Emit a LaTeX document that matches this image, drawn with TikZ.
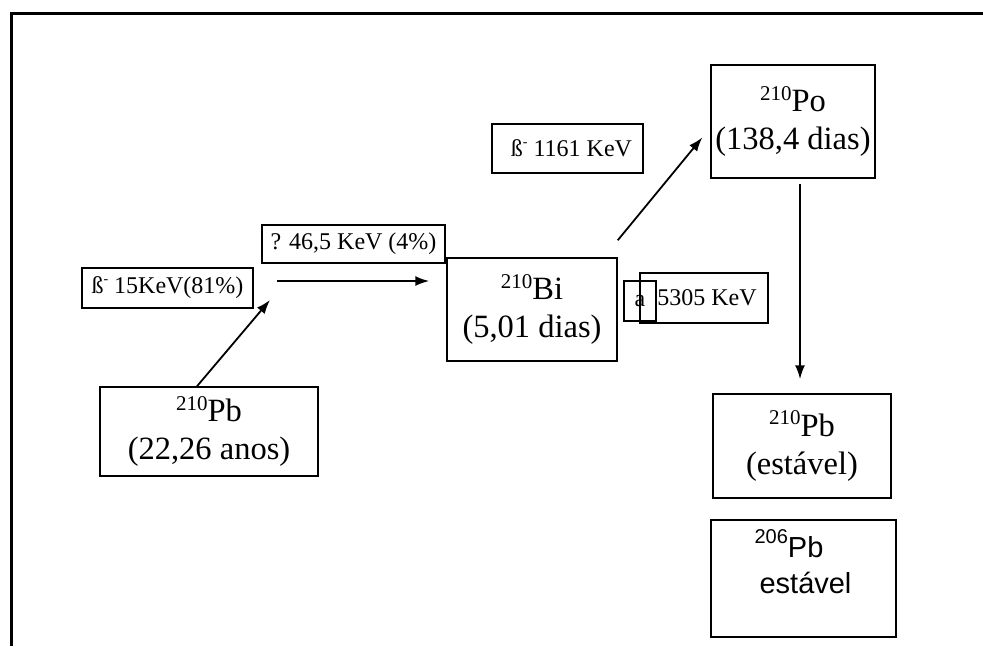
\documentclass[tikz,border=0pt]{standalone}
\usepackage{fontspec}
\setmainfont{Liberation Serif}
\newfontfamily\arialfont{Liberation Sans}
\usetikzlibrary{arrows.meta}
\newcommand{\iso}[2]{\raisebox{0.36em}{\fontsize{21}{21}\selectfont #1}#2}
\newcommand{\betam}{ß\raisebox{0.42em}{\fontsize{14}{14}\selectfont -}}
\begin{document}
\begin{tikzpicture}[x=1pt,y=-1pt,
    caixa/.style={draw,line width=1.5pt,inner sep=0pt,align=center},
    grande/.style={font=\fontsize{32.5}{38}\selectfont},
    pequeno/.style={font=\fontsize{24}{26}\selectfont},
    seta/.style={-{Latex[length=14pt,width=10pt]},line width=1.8pt}]
    \useasboundingbox (0,0) rectangle (983,646);
    %moldura
    \draw[line width=3pt] (11.5,646) -- (11.5,13.5) -- (983,13.5);
    %caixas dos nuclideos
    \node[caixa,grande,minimum width=218pt,minimum height=89pt] (pb) at (209,431.5) {\iso{210}{Pb}\\(22,26 anos)};
    \node[caixa,grande,minimum width=170pt,minimum height=103pt] (bi) at (532,309.5) {\iso{210}{Bi}\\(5,01 dias)};
    \node[caixa,grande,minimum width=164pt,minimum height=113pt] (po) at (793,121.5) {\iso{210}{Po}\\(138,4 dias)};
    \node[caixa,grande,minimum width=178pt,minimum height=104pt] (pbst) at (802,446) {\iso{210}{Pb}\\(estável)};
    \node[caixa,minimum width=185pt,minimum height=117pt] (pbsix) at (803.5,578.5) {};
    \node[align=left,font=\arialfont\fontsize{29}{36}\selectfont] (pbsixtxt) at (803,562)
        {\raisebox{0.48em}{\fontsize{20}{20}\selectfont 206}Pb\\\hspace{5pt}estável};
    %caixas das energias
    \node[caixa,pequeno,minimum width=171pt,minimum height=40pt] (betaum) at (167.5,288) {\betam\ 15KeV(81\%)};
    \node[caixa,pequeno,minimum width=183pt,minimum height=38pt] (gama) at (353.5,244) {? 46,5 KeV (4\%)};
    \node[caixa,pequeno,minimum width=151pt,minimum height=49pt] (betadois) at (567.5,148.5) {\hspace{8pt}\betam\ 1161 KeV};
    \node[caixa,pequeno,minimum width=32pt,minimum height=40pt] (alfa) at (640,301) {a};
    \node[caixa,pequeno,minimum width=128pt,minimum height=50pt] (alfaen) at (704,298) {\hspace{6pt}5305 KeV};
    %setas
    \coordinate (betafim) at (270,300);
    \coordinate (gamaini) at (277,281);
    \draw[seta] ([xshift=-12pt]pb.north) -- (betafim);
    \draw[seta] (gamaini) -- (gamaini -| bi.west) [shorten >=17pt];
    \draw[seta] ([yshift=17pt]bi.north east) -- ([shift={(-8,16)}]po.west);
    \draw[seta] ([xshift=7pt,yshift=-5pt]po.south) -- ([xshift=-2pt,yshift=14pt]pbst.north);
\end{tikzpicture}
\end{document}
